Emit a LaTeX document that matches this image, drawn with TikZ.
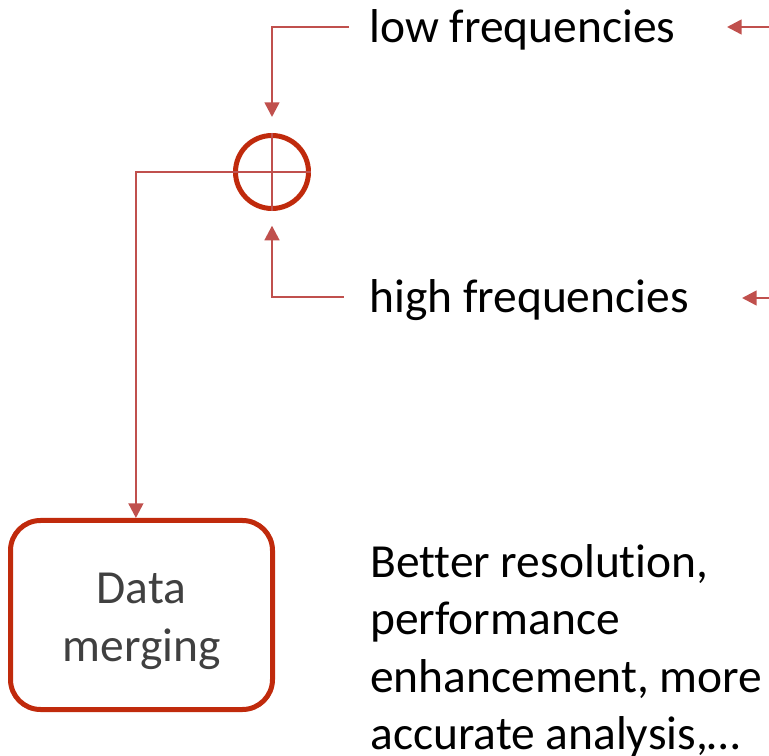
\documentclass[tikz,border=0pt]{standalone}
\usepackage{fontspec}
\setmainfont{Carlito}[Ligatures=NoCommon, RawFeature={-calt;-clig}]
\usetikzlibrary{arrows.meta}
\definecolor{linkred}{RGB}{192,80,77}
\definecolor{ringred}{RGB}{192,42,12}
\definecolor{boxtext}{RGB}{64,64,64}

\begin{document}
\begin{tikzpicture}[x=0.75pt, y=-0.75pt,
		link/.style={draw=linkred, line width=1.9pt},
		tip/.style={-{Triangle[length=11pt,width=11pt]}},
		label text/.style={font=\fontsize{35.6pt}{43.1pt}\selectfont, inner sep=0pt, anchor=base west}]
				\useasboundingbox (0,0) rectangle (769,756);
				\node[draw=ringred, circle, line width=3.75pt, minimum size=54.75pt, inner sep=0pt] (sum)at(272, 172) {};
				\node[draw=ringred, rectangle, rounded corners=22.5pt, line width=3.75pt, minimum width=196.5pt, minimum height=141.75pt] (merge)at(141.5, 615) {};
				\node[label text, anchor=base, align=center, text=boxtext, font=\fontsize{35.6pt}{43.5pt}\selectfont] (mergetext)at(141.5, 661) {Data\\merging};
				\node[label text] (low)at(369, 43) {low frequencies};
				\node[label text] (high)at(369, 313) {high frequencies};
				\node[label text, align=left, anchor=north west] (gain)at(370, 544) {Better resolution,\\performance\\enhancement, more\\accurate analysis,\dots};
				\coordinate (lowin)at(769, 27);
				\coordinate (lowend)at(727, 27);
				\coordinate (highin)at(769, 298);
				\coordinate (highend)at(742, 298);
				% adder cross
				\draw[link] (sum.north) -- (sum.south);
				\draw[link, tip] (sum.east) -| ([xshift=-4.2pt]merge.north);
				% inputs to the adder
				\draw[link, tip, shorten >=12pt] ([xshift=-15pt, yshift=12pt]low.base west) -| (sum.north);
				\draw[link, tip, shorten >=11pt] ([xshift=-19pt, yshift=12pt]high.base west) -| (sum.south);
				\draw[link, tip] (lowin) -- (lowend);
				\draw[link, tip] (highin) -- (highend);
			\end{tikzpicture}
\end{document}
